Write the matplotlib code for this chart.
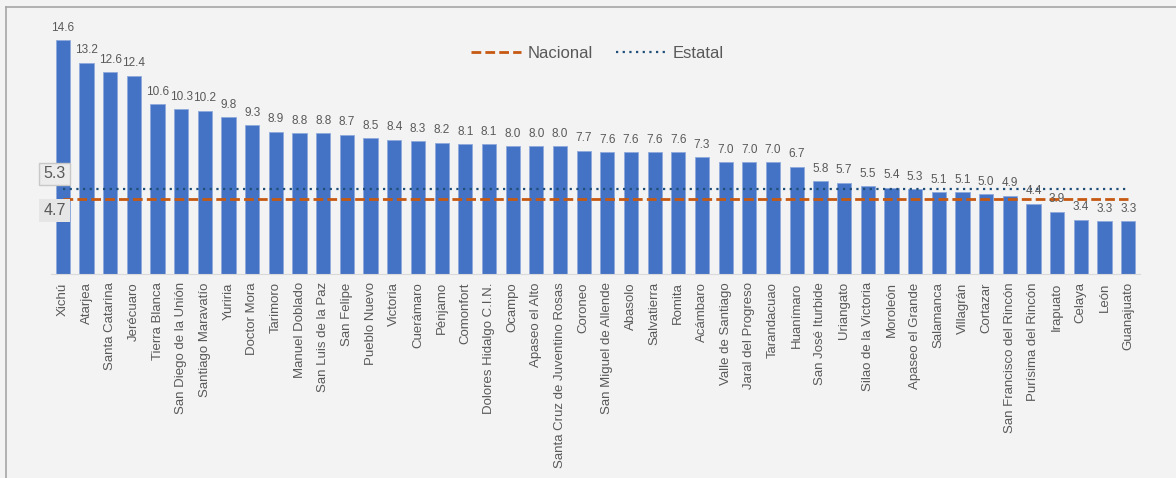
import matplotlib.pyplot as plt
from matplotlib.lines import Line2D

plt.rcParams['font.family'] = ['Liberation Sans', 'DejaVu Sans']

municipios = ['Xichú', 'Atarjea', 'Santa Catarina', 'Jerécuaro', 'Tierra Blanca',
              'San Diego de la Unión', 'Santiago Maravatío', 'Yuriria', 'Doctor Mora',
              'Tarimoro', 'Manuel Doblado', 'San Luis de la Paz', 'San Felipe',
              'Pueblo Nuevo', 'Victoria', 'Cuerámaro', 'Pénjamo', 'Comonfort',
              'Dolores Hidalgo C.I.N.', 'Ocampo', 'Apaseo el Alto',
              'Santa Cruz de Juventino Rosas', 'Coroneo', 'San Miguel de Allende',
              'Abasolo', 'Salvatierra', 'Romita', 'Acámbaro', 'Valle de Santiago',
              'Jaral del Progreso', 'Tarandacuao', 'Huanímaro', 'San José Iturbide',
              'Uriangato', 'Silao de la Victoria', 'Moroleón', 'Apaseo el Grande',
              'Salamanca', 'Villagrán', 'Cortazar', 'San Francisco del Rincón',
              'Purísima del Rincón', 'Irapuato', 'Celaya', 'León', 'Guanajuato']
valores = [14.6, 13.2, 12.6, 12.4, 10.6, 10.3, 10.2, 9.8, 9.3, 8.9, 8.8, 8.8, 8.7,
           8.5, 8.4, 8.3, 8.2, 8.1, 8.1, 8.0, 8.0, 8.0, 7.7, 7.6, 7.6, 7.6, 7.6,
           7.3, 7.0, 7.0, 7.0, 6.7, 5.8, 5.7, 5.5, 5.4, 5.3, 5.1, 5.1, 5.0, 4.9,
           4.4, 3.9, 3.4, 3.3, 3.3]
nacional = 4.7
estatal = 5.3

W, H = 1176, 478
fig = plt.figure(figsize=(W / 100, H / 100), dpi=100, facecolor='#f3f3f3')
ax = fig.add_axes([51 / W, 1 - 274 / H, (1140 - 51) / W, (274 - 18) / H])
ax.set_facecolor('none')

x = list(range(len(municipios)))
ax.bar(x, valores, width=0.6, color='#4472C4', edgecolor='#8FAADC', linewidth=0.6, zorder=2)
for xi, v in zip(x, valores):
    ax.text(xi, v + 0.4, f'{v:.1f}', ha='center', va='bottom', fontsize=8.5, color='#595959', zorder=4)

ax.plot(x, [nacional] * len(x), color='#C65911', linestyle=(0, (3.5, 1.5)), linewidth=2, label='Nacional', zorder=3)
ax.plot(x, [estatal] * len(x), color='#1F4E79', linestyle=(0, (1, 2)), linewidth=1.6, label='Estatal', zorder=3)

ax.set_xlim(-0.5, 45.5)
ax.set_ylim(0, 16)
ax.set_xticks(x)
ax.set_xticklabels(municipios, rotation=90, fontsize=9.5, color='#595959')
ax.tick_params(axis='x', length=0, pad=6)
ax.set_yticks([])
for s in ['top', 'right', 'left']:
    ax.spines[s].set_visible(False)
ax.spines['bottom'].set_color('#d9d9d9')

# cuadros con los valores de referencia
ax.text(-0.35, estatal + 0.95, f'{estatal:.1f}', ha='center', va='center', fontsize=11.5, color='#595959', zorder=5,
        bbox=dict(boxstyle='square,pad=0.25', facecolor='#ececec', edgecolor='#c8c8c8', linewidth=1))
ax.text(-0.35, nacional - 0.75, f'{nacional:.1f}', ha='center', va='center', fontsize=11.5, color='#595959', zorder=5,
        bbox=dict(boxstyle='square,pad=0.25', facecolor='#e6e6e6', edgecolor='none'))

leg = ax.legend(loc='upper center', bbox_to_anchor=(0.502, 0.95), ncol=2, frameon=False,
                fontsize=12, handlelength=3.0, columnspacing=1.4, handletextpad=0.4)
for t in leg.get_texts():
    t.set_color('#595959')

# marco del grafico
fig.add_artist(Line2D([6 / W, 1], [1 - 7 / H, 1 - 7 / H], color='#a6a6a6', linewidth=1.2))
fig.add_artist(Line2D([6 / W, 6 / W], [0, 1 - 7 / H], color='#a6a6a6', linewidth=1.2))

fig.savefig('out.png', dpi=100, facecolor=fig.get_facecolor())
